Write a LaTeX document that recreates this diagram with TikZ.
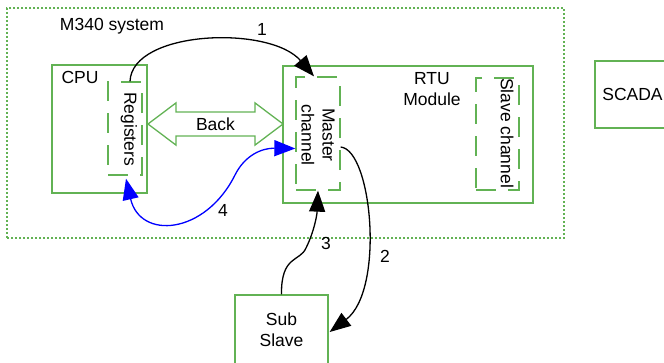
\documentclass[tikz,border=0pt]{standalone}
\usepackage{fontspec}
\setmainfont{Liberation Sans}
\usetikzlibrary{arrows.meta}
\usetikzlibrary{calc}
\usetikzlibrary{shapes.arrows}
\definecolor{boxgreen}{RGB}{98,178,84}

\begin{document}
\begin{tikzpicture}[x=1pt,y=-1pt,font=\fontsize{17.5}{21}\selectfont,
  box/.style={draw=boxgreen,line width=1.3pt,inner sep=0pt},
  chan/.style={box,dash pattern=on 20pt off 12pt},
  link/.style={line width=1.3pt,-{Triangle[length=21pt,width=16pt]}}]
\useasboundingbox (0,0) rectangle (664,362);
\clip (0,0) rectangle (664,362);
% M340 system
\node[box,dash pattern=on 2pt off 2pt,minimum width=557pt,minimum height=230pt] (sys) at (285.5,123) {};
\node (syslabel) at (112,26) {M340 system};
% CPU
\node[box,minimum width=95pt,minimum height=128pt] (cpu) at (99.5,129) {};
\node (cpulabel) at (80,77) {CPU};
\node[chan,minimum width=34pt,minimum height=93pt] (reg) at (125,128.5) {};
\node[rotate=-90] (reglabel) at (129,129) {Registers};
% RTU module
\node[box,minimum width=250pt,minimum height=137pt] (rtu) at (408,134.5) {};
\node[align=center] (rtulabel) at (432,89) {RTU\\Module};
\node[chan,minimum width=44pt,minimum height=113pt] (master) at (318,133.5) {};
\node[rotate=-90,align=center] (masterlabel) at (318,135) {Master\\channel};
\node[chan,minimum width=43pt,minimum height=112pt] (slave) at (497.5,134) {};
\node[rotate=-90] (slavelabel) at (507,133) {Slave channel};
% outside
\node[box,minimum width=75pt,minimum height=67pt] (scada) at (632.5,94.5) {SCADA};
\node[box,align=center,minimum width=93pt,minimum height=70pt] (sub) at (281.5,330) {Sub\\Slave};
% backplane
\node[draw=boxgreen,line width=1.3pt,double arrow,minimum height=135pt,inner xsep=0pt,inner ysep=5pt,
  double arrow head extend=9pt,double arrow tip angle=74] (back) at (215.5,124) {Back};
% exchanges
\draw[link] ($(reg.north)+(5,0)$) .. controls (132,30) and (270,25) .. ($(master.north)+(-4,0)$);
\draw[link] ($(master.east)+(0,13.5)$) .. controls (372,150) and (385,290) .. ($(sub.east)+(1,2)$);
\draw[link] (sub.north) .. controls (281,255) and (300,262) .. (306,248) .. controls (314,232) and (317,215) .. (master.south);
\draw[link,blue,{Triangle[length=21pt,width=16pt]}-{Triangle[length=21pt,width=16pt]}] ($(reg.south)+(1,3)$)
  .. controls (140,240) and (205,235) .. (235,175) .. controls (245,155) and (262,148) .. ($(master.west)+(0,15)$);
\node (n1) at (262,29) {1};
\node (n2) at (385,256) {2};
\node (n3) at (326,243) {3};
\node (n4) at (223,210) {4};
\end{tikzpicture}
\end{document}
